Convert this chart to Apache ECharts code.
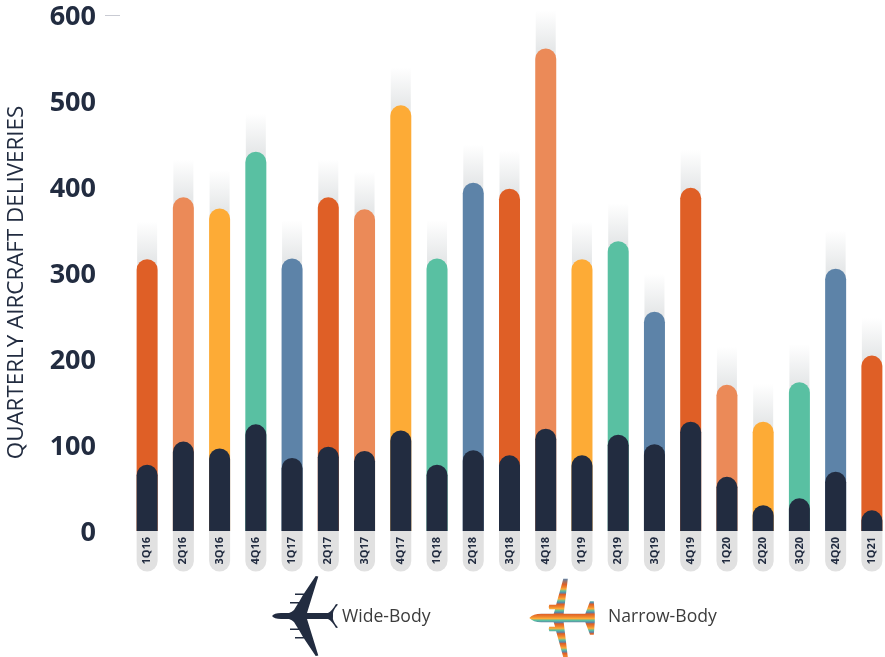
<!DOCTYPE html>
<html>
<head>
<meta charset="utf-8">
<style>html,body{margin:0;padding:0;background:#fff}#chart{width:885px;height:657px}</style>
<script src="https://cdn.jsdelivr.net/npm/echarts@6/dist/echarts.min.js"></script>
</head>
<body>
<div id="chart"></div>
<script>
// Quarterly aircraft deliveries
const quarters = ['1Q16','2Q16','3Q16','4Q16','1Q17','2Q17','3Q17','4Q17','1Q18','2Q18','3Q18','4Q18','1Q19','2Q19','3Q19','4Q19','1Q20','2Q20','3Q20','4Q20','1Q21'];
const totalDeliveries = [316,388,375,441,317,388,374,495,317,405,398,561,316,337,255,399,170,127,173,305,204];
const wideBody = [77,104,96,124,85,98,93,117,77,94,88,119,88,112,101,127,63,30,38,69,24];
const yTicks = [0,100,200,300,400,500,600];
const barColors = ['#DF5F26','#EB8A58','#FDAB36','#59C0A2','#5D83A8'];
const navy = '#222C40';

// Plane silhouettes, nose at the local origin
const widePlane = 'M0 0 Q2 -3 9 -3 L17 -3 Q20 -4 22 -6 L26 -12.5 L18 -12.5 L18 -14 L27 -14 L31 -21 L23 -21 L23 -22.5 L32 -22.5 L43.7 -40 L46.3 -39.5 L35 -3 L56 -3 Q60 -5 64 -12 L66 -11.5 Q60 -5 61 0 Q60 5 66 11.5 L64 12 Q60 5 56 3 L35 3 L46.3 39.5 L43.7 40 L32 22.5 L23 22.5 L23 21 L31 21 L27 14 L18 14 L18 12.5 L26 12.5 L22 6 Q20 4 17 3 L9 3 Q2 3 0 0 Z';
const narrowPlane = 'M0 0 Q4 -4.2 12 -4.2 L24.4 -4.2 L25.8 -8.7 L20 -8.7 L19.4 -11 L20 -13.3 L26.8 -13.3 L34 -39.3 L38.5 -39.3 L34.4 -4.2 L56 -4.2 L60.7 -16.7 L64.5 -16.7 L65.5 -4 L65.5 4 L64.5 16.7 L60.7 16.7 L56 4.2 L34.4 4.2 L38.5 39.3 L34 39.3 L26.8 13.3 L20 13.3 L19.4 11 L20 8.7 L25.8 8.7 L24.4 4.2 L12 4.2 Q4 4.2 0 0 Z';
echarts.graphic.registerShape('widePlane', echarts.graphic.extendPath(widePlane));
echarts.graphic.registerShape('narrowPlane', echarts.graphic.extendPath(narrowPlane));

// Horizontal paint bands for the narrow-body livery
const bandColors = ['#DF5F26','#F08A30','#FDAB36','#59C0A2','#5D83A8'];
const bandPositions = [0, 0.3, 0.45, 0.65, 0.85];
const bandPeriod = 0.125;
const bandPhase = 0.075;
const bandStops = [{ offset: 0, color: bandColors[4] }];
for (let b = 0; b < 9; b++) {
  bandColors.forEach((color, i) => {
    const offset = bandPhase + (b + bandPositions[i]) * bandPeriod;
    if (offset > 0 && offset < 1) bandStops.push({ offset, color });
  });
}
bandStops.push({ offset: 1, color: bandColors[0] });

const chart = echarts.init(document.getElementById('chart'), null, { renderer: 'canvas' });

chart.setOption({
  animation: false,
  backgroundColor: '#fff',
  textStyle: { fontFamily: '"Open Sans", sans-serif' },
  grid: { left: 129, right: -5, top: 15, bottom: 126, containLabel: false, outerBoundsMode: 'none' },
  xAxis: {
    type: 'category',
    data: quarters,
    axisLine: { show: false },
    axisTick: { show: false },
    axisLabel: {
      interval: 0,
      rotate: 90,
      margin: 0,
      lineHeight: 21,
      padding: [0, 6, 0, 7],
      align: 'right',
      verticalAlign: 'middle',
      backgroundColor: '#E1E1E1',
      borderRadius: [10.5, 0, 0, 10.5],
      color: navy,
      fontFamily: '"Open Sans", sans-serif',
      fontWeight: 'bold',
      fontSize: 11
    }
  },
  yAxis: {
    type: 'value',
    min: 0,
    max: 600,
    interval: 100,
    offset: 9,
    name: 'QUARTERLY AIRCRAFT DELIVERIES',
    nameLocation: 'middle',
    nameGap: 92,
    nameTextStyle: { color: navy, fontSize: 22.4, padding: [0, 19, 0, 0], fontFamily: '"Open Sans", sans-serif' },
    axisLine: { show: false },
    axisTick: { show: true, length: 15, customValues: [600], lineStyle: { color: '#C9CBD3', width: 1 } },
    splitLine: { show: false },
    axisLabel: {
      margin: 24,
      verticalAlign: 'top',
      lineHeight: 36,
      padding: [-16, 0, 0, 0],
      color: navy,
      fontFamily: '"Open Sans", sans-serif',
      fontWeight: 'bold',
      fontSize: 27,
      customValues: yTicks
    }
  },
  series: [
    {
      // Soft glow rising above each column
      type: 'custom',
      name: 'Glow',
      silent: true,
      data: quarters.map((q, i) => [i, totalDeliveries[i]]),
      encode: { x: 0, y: 1 },
      renderItem(params, api) {
        const top = api.coord([api.value(0), api.value(1)]);
        return {
          type: 'rect',
          shape: { x: top[0] - 10, y: top[1] - 38, width: 20, height: 48 },
          style: {
            fill: new echarts.graphic.LinearGradient(0, 0, 0, 1, [
              { offset: 0, color: 'rgba(230,232,233,0)' },
              { offset: 0.79, color: 'rgba(230,232,233,1)' },
              { offset: 1, color: 'rgba(230,232,233,1)' }
            ])
          }
        };
      }
    },
    {
      type: 'bar',
      name: 'Narrow-Body',
      barWidth: 21,
      barGap: '-100%',
      data: totalDeliveries.map((v, i) => ({
        value: v,
        itemStyle: { color: barColors[i % barColors.length], borderRadius: [10.5, 10.5, 0, 0] }
      }))
    },
    {
      type: 'bar',
      name: 'Wide-Body',
      barWidth: 21,
      barGap: '-100%',
      data: wideBody,
      itemStyle: { color: navy, borderRadius: [10.5, 10.5, 0, 0] }
    }
  ],
  graphic: [
    { type: 'widePlane', x: 272, y: 616, style: { fill: navy } },
    { type: 'text', x: 342, y: 617, style: { text: 'Wide-Body', fill: '#3C3C3C', font: '17.6px "Open Sans"', textVerticalAlign: 'middle' } },
    {
      type: 'narrowPlane', x: 529.3, y: 618,
      style: { fill: new echarts.graphic.LinearGradient(0, 0, 0, 1, bandStops) }
    },
    { type: 'text', x: 608, y: 617, style: { text: 'Narrow-Body', fill: '#3C3C3C', font: '17.6px "Open Sans"', textVerticalAlign: 'middle' } }
  ]
});
</script>
</body>
</html>
